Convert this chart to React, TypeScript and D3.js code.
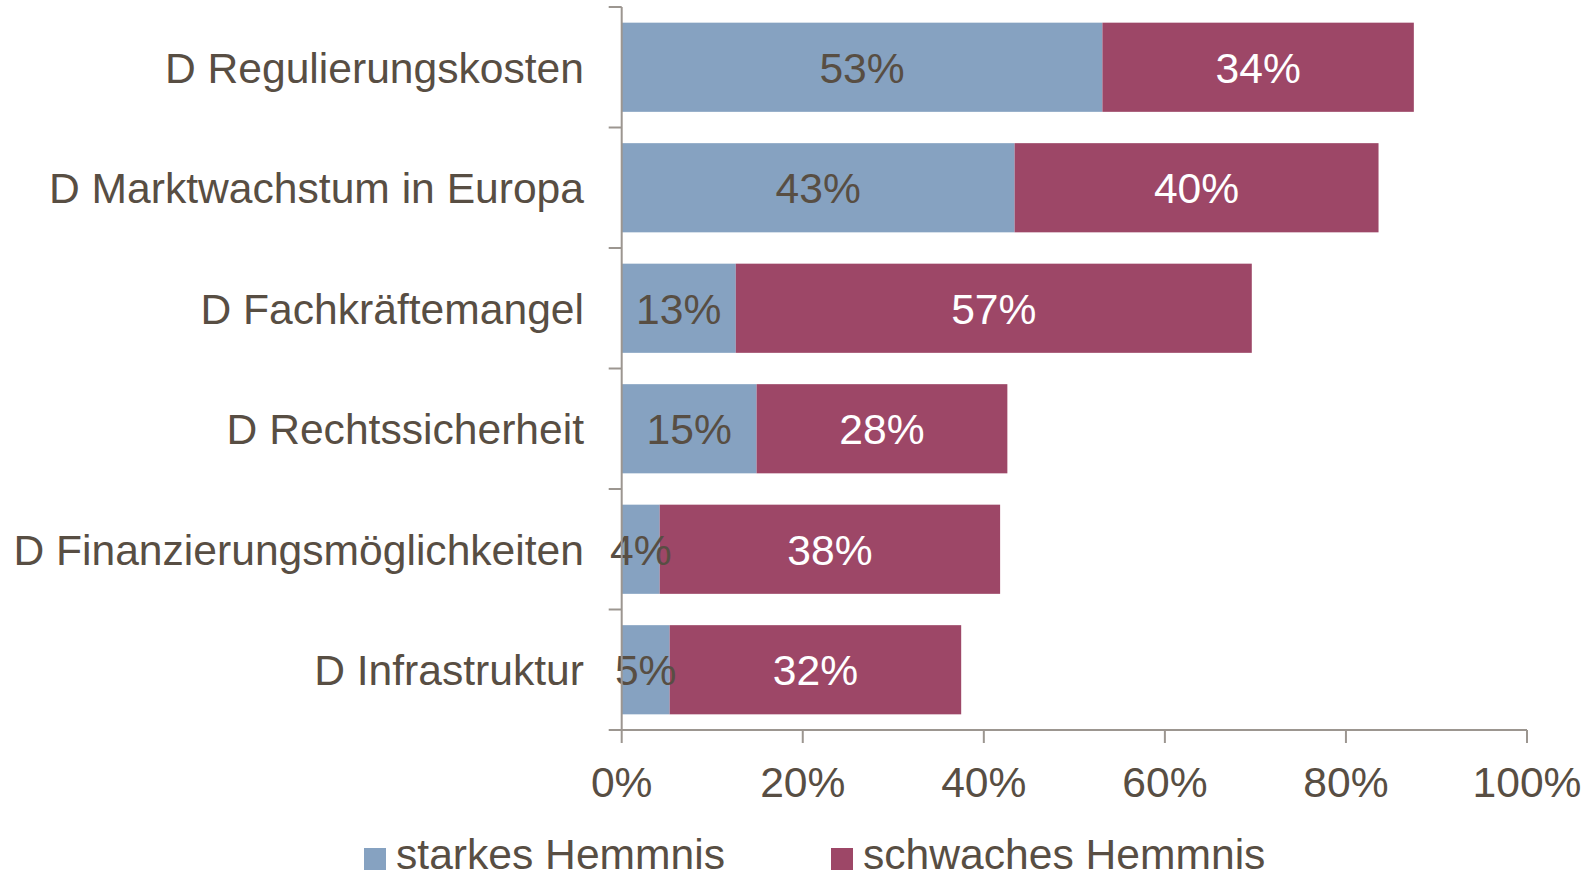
import React from "react";
import * as d3 from "d3";

const categories = [
  "D Regulierungskosten",
  "D Marktwachstum in Europa",
  "D Fachkräftemangel",
  "D Rechtssicherheit",
  "D Finanzierungsmöglichkeiten",
  "D Infrastruktur",
];
const starkes = [53.1, 43.4, 12.6, 14.9, 4.2, 5.3];
const schwaches = [34.4, 40.2, 57.0, 27.7, 37.6, 32.2];
const xTicks = [0, 20, 40, 60, 80, 100];
const seriesNames = ["starkes Hemmnis", "schwaches Hemmnis"];

const W = 1593;
const H = 879;
const X0 = 621.7;
const X1 = 1527;
const Y0 = 7;
const Y1 = 730;
const BLUE = "#86A2C1";
const RED = "#9D4767";
const TEXT = "#584E43";
const AXIS = "#9C9690";
const FONT = "'Liberation Sans', Arial, sans-serif";
const FS = 42.6;

export default function App() {
  const x = d3.scaleLinear().domain([0, 100]).range([X0, X1]);
  const y = d3.scaleBand().domain(categories).range([Y0, Y1]).paddingInner(0.26).paddingOuter(0.13);
  const yb = d3.scaleBand().domain(categories).range([Y0, Y1]);

  return (
    <svg width={W} height={H} style={{ position: "absolute", left: 0, top: 0, background: "#fff" }} fontFamily={FONT}>
      {/* bars */}
      {categories.map((c, i) => {
        const yy = y(c)!;
        const h = y.bandwidth();
        const s = starkes[i];
        const w = schwaches[i];
        const cy = yy + h / 2;
        return (
          <g key={c}>
            <rect x={x(0)} y={yy} width={x(s) - x(0)} height={h} fill={BLUE} />
            <rect x={x(s)} y={yy} width={x(s + w) - x(s)} height={h} fill={RED} />
            <text x={(x(0) + x(s)) / 2} y={cy} dy="0.36em" textAnchor="middle" fontSize={FS} fill={TEXT}>
              {Math.round(s)}%
            </text>
            <text x={(x(s) + x(s + w)) / 2} y={cy} dy="0.36em" textAnchor="middle" fontSize={FS} fill="#fff">
              {Math.round(w)}%
            </text>
          </g>
        );
      })}
      {/* y axis */}
      <line x1={X0} x2={X0} y1={Y0} y2={Y1} stroke={AXIS} strokeWidth={2} />
      {[...categories.map((c) => yb(c)!), Y1].map((t, i) => (
        <line key={i} x1={X0 - 13} x2={X0} y1={t} y2={t} stroke={AXIS} strokeWidth={2} />
      ))}
      {categories.map((c) => (
        <text key={c} x={584} y={yb(c)! + yb.bandwidth() / 2} dy="0.36em" textAnchor="end" fontSize={FS} fill={TEXT}>
          {c}
        </text>
      ))}
      {/* x axis */}
      <line x1={X0} x2={X1} y1={Y1} y2={Y1} stroke={AXIS} strokeWidth={2} />
      {xTicks.map((t) => (
        <g key={t}>
          <line x1={x(t)} x2={x(t)} y1={Y1} y2={Y1 + 13} stroke={AXIS} strokeWidth={2} />
          <text x={x(t)} y={797} textAnchor="middle" fontSize={FS} fill={TEXT}>
            {t}%
          </text>
        </g>
      ))}
      {/* legend */}
      {seriesNames.map((n, i) => {
        const lx = i === 0 ? 364 : 831;
        return (
          <g key={n}>
            <rect x={lx} y={848} width={22} height={22} fill={i === 0 ? BLUE : RED} />
            <text x={lx + 32} y={869} fontSize={FS} fill={TEXT}>
              {n}
            </text>
          </g>
        );
      })}
    </svg>
  );
}
